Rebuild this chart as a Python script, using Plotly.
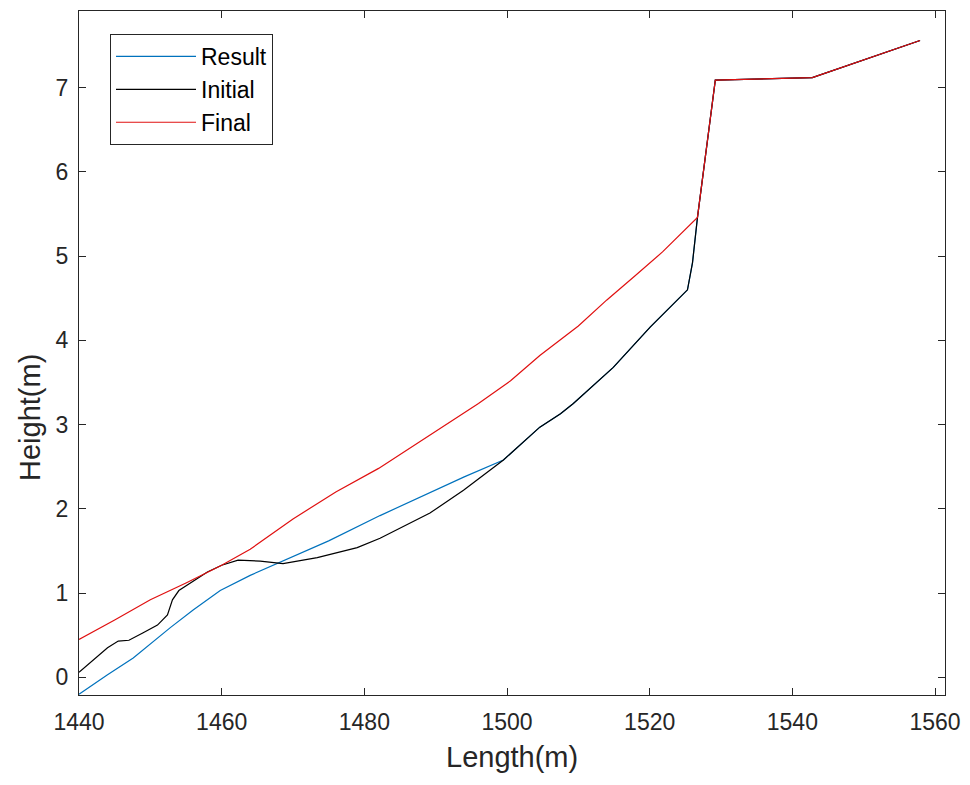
import plotly.graph_objects as go

# ---- data ----
result_x = [1440, 1442, 1444, 1447.6, 1450, 1452.8, 1456, 1459.8, 1464, 1468.6, 1475, 1482.2,
            1489.2, 1494, 1499.5, 1504.6, 1507.5, 1509.3, 1514.9, 1520.1, 1525.3, 1526, 1526.7,
            1529.2, 1542.8, 1557.9]
result_y = [-0.2, -0.08, 0.03, 0.23, 0.40, 0.59, 0.80, 1.03, 1.21, 1.38, 1.62, 1.92,
            2.19, 2.38, 2.58, 2.97, 3.13, 3.25, 3.68, 4.16, 4.60, 4.92, 5.46,
            7.09, 7.12, 7.56]

initial_x = [1440, 1442, 1444, 1445.5, 1447, 1449, 1451, 1452.4, 1453.1, 1454, 1455.6, 1458,
             1460, 1462.3, 1465.4, 1468.6, 1473.4, 1479, 1482.2, 1484.8, 1489.2, 1493.9,
             1499.5, 1504.6, 1507.5, 1509.3, 1514.9, 1520.1, 1525.3, 1526, 1526.7, 1529.2,
             1542.8, 1557.9]
initial_y = [0.06, 0.2, 0.35, 0.43, 0.44, 0.53, 0.62, 0.74, 0.92, 1.03, 1.12, 1.25,
             1.33, 1.39, 1.38, 1.35, 1.42, 1.54, 1.65, 1.76, 1.95, 2.22,
             2.58, 2.97, 3.13, 3.25, 3.68, 4.16, 4.60, 4.92, 5.46, 7.09,
             7.12, 7.56]

final_x = [1440, 1445, 1450, 1455, 1460, 1464, 1470, 1476, 1482, 1489, 1496, 1500.5,
           1504.6, 1510, 1514, 1518, 1521.8, 1526.7, 1529.2, 1542.8, 1557.9]
final_y = [0.45, 0.68, 0.92, 1.12, 1.33, 1.52, 1.88, 2.20, 2.48, 2.87, 3.25, 3.52,
           3.82, 4.17, 4.48, 4.77, 5.05, 5.46, 7.09, 7.12, 7.56]

x_ticks = [1440, 1460, 1480, 1500, 1520, 1540, 1560]
y_ticks = [0, 1, 2, 3, 4, 5, 6, 7]

FONT = "Liberation Sans, Arial, sans-serif"
AXC = "#262626"

# layout geometry (figure px; page body adds an 8px offset)
ML, MT, PW, PH = 71, 3, 866, 684

fig = go.Figure()
fig.add_trace(go.Scatter(x=result_x, y=result_y, mode="lines", name="Result",
                         line=dict(color="#0072BD", width=1.2)))
fig.add_trace(go.Scatter(x=initial_x, y=initial_y, mode="lines", name="Initial",
                         line=dict(color="#000000", width=1.2)))
fig.add_trace(go.Scatter(x=final_x, y=final_y, mode="lines", name="Final",
                         line=dict(color="#E01010", width=1.2)))

fig.update_layout(
    width=970, height=785,
    margin=dict(l=ML, r=970 - ML - PW, t=MT, b=785 - MT - PH),
    paper_bgcolor="white", plot_bgcolor="white",
    font=dict(family=FONT, color=AXC),
    showlegend=True,
    legend=dict(x=(102 - ML) / PW, y=1 - (26 - MT) / PH, xanchor="left", yanchor="top",
                bgcolor="white", bordercolor="#262626", borderwidth=1,
                font=dict(family=FONT, size=23, color="#000000"),
                itemwidth=80, tracegroupgap=0),
    xaxis=dict(range=[1440, 1561.4], tickvals=x_ticks, ticktext=[str(v) for v in x_ticks],
               ticks="inside", ticklen=7, tickcolor=AXC, tickwidth=1,
               showline=True, linecolor=AXC, linewidth=1, mirror="allticks",
               showgrid=False, zeroline=False, automargin=False,
               ticklabelstandoff=6,
               tickfont=dict(family=FONT, size=23, color=AXC)),
    yaxis=dict(range=[-0.21, 7.91], tickvals=y_ticks, ticktext=[str(v) for v in y_ticks],
               ticks="inside", ticklen=7, tickcolor=AXC, tickwidth=1,
               showline=True, linecolor=AXC, linewidth=1, mirror="allticks",
               showgrid=False, zeroline=False, automargin=False,
               ticklabelstandoff=5,
               tickfont=dict(family=FONT, size=23, color=AXC)),
    annotations=[
        dict(text="Length(m)", xref="paper", yref="paper",
             x=(504 - ML) / PW, y=1 - (749 - MT) / PH, xanchor="center", yanchor="middle",
             showarrow=False, font=dict(family=FONT, size=29, color=AXC)),
        dict(text="Height(m)", xref="paper", yref="paper", textangle=-90,
             x=(22 - ML) / PW, y=1 - (410 - MT) / PH, xanchor="center", yanchor="middle",
             showarrow=False, font=dict(family=FONT, size=29, color=AXC)),
    ],
)

fig.write_html("out.html")
